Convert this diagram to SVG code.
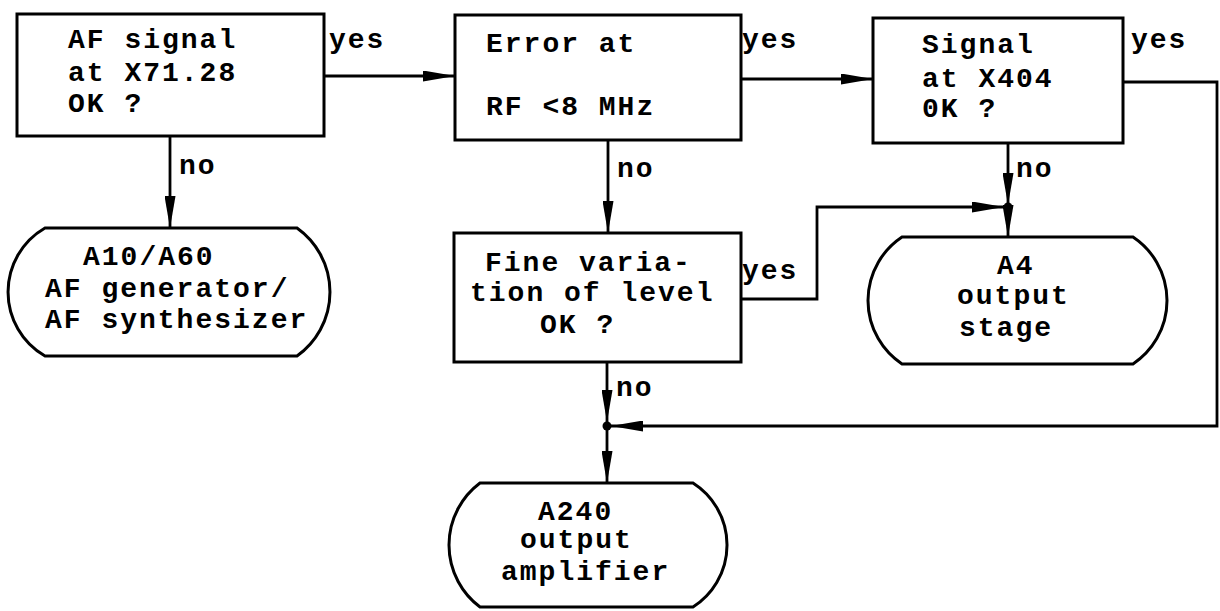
<svg xmlns="http://www.w3.org/2000/svg" width="1220" height="611" viewBox="0 0 1220 611">
<style>
.box{fill:#fff;stroke:#000;stroke-width:3}
.term{fill:#fff;stroke:#000;stroke-width:3}
.ln{fill:none;stroke:#000;stroke-width:2.8;marker-end:url(#ah)}
text{font-family:"Liberation Mono","Courier New",monospace;font-weight:bold;font-size:28px;letter-spacing:2px;fill:#000}
</style>
<defs>
<marker id="ah" markerUnits="userSpaceOnUse" markerWidth="32" markerHeight="11" refX="32" refY="5.5" orient="auto" viewBox="0 0 32 11">
<path d="M0,0 L32,5.5 L0,11 Z" fill="#000"/>
</marker>
</defs>
<rect width="1220" height="611" fill="#fff"/>
<g id="connectors">
<path class="ln" d="M324,76 H455"/>
<path class="ln" d="M170,136 V228"/>
<path class="ln" d="M741,79 H873"/>
<path class="ln" d="M608,140 V233"/>
<path class="ln" d="M1123,82 H1217 V426 H611"/>
<path class="ln" d="M1008,143 V205"/>
<path class="ln" d="M1008,207 V237"/>
<path class="ln" d="M741,299 H817 V207 H1004"/>
<path class="ln" d="M607,362 V422"/>
<path class="ln" d="M607,426 V483"/>
<circle cx="1008" cy="207" r="4.5" fill="#000"/>
<circle cx="607" cy="426" r="4.5" fill="#000"/>
<text x="329" y="48">yes</text>
<text x="742" y="48">yes</text>
<text x="1131" y="48">yes</text>
<text x="179" y="174">no</text>
<text x="617" y="177">no</text>
<text x="1016" y="177">no</text>
<text x="742" y="279">yes</text>
<text x="616" y="396">no</text>
</g>
<g id="n1">
<rect class="box" x="17" y="14" width="307" height="122"/>
<text x="68" y="48">AF signal</text>
<text x="68" y="81">at X71.28</text>
<text x="68" y="112">OK ?</text>
</g>
<g id="n2">
<rect class="box" x="455" y="15" width="286" height="125"/>
<text x="486" y="52">Error at</text>
<text x="486" y="115">RF &lt;8 MHz</text>
</g>
<g id="n3">
<rect class="box" x="873" y="18" width="250" height="125"/>
<text x="922" y="53">Signal</text>
<text x="922" y="87">at X404</text>
<text x="922" y="117">0K ?</text>
</g>
<g id="n4">
<rect class="box" x="454" y="233" width="287" height="129"/>
<text x="485" y="271">Fine varia-</text>
<text x="470" y="301">tion of level</text>
<text x="540" y="333">OK ?</text>
</g>
<g id="a10">
<path class="term" d="M45,228 H297 A78.6,78.6 0 0 1 297,356 H45 A73.9,73.9 0 0 1 45,228 Z"/>
<text x="83" y="265">A10/A60</text>
<text x="45" y="297">AF generator/</text>
<text x="45" y="328">AF synthesizer</text>
</g>
<g id="a4">
<path class="term" d="M902,237 H1133 A76.3,76.3 0 0 1 1133,364 H902 A76.3,76.3 0 0 1 902,237 Z"/>
<text x="997" y="274">A4</text>
<text x="957" y="304">output</text>
<text x="959" y="336">stage</text>
</g>
<g id="a240">
<path class="term" d="M480,483 H693 A73.5,73.5 0 0 1 693,607 H480 A77.5,77.5 0 0 1 480,483 Z"/>
<text x="538" y="520">A240</text>
<text x="520" y="548">output</text>
<text x="501" y="580">amplifier</text>
</g>
</svg>
